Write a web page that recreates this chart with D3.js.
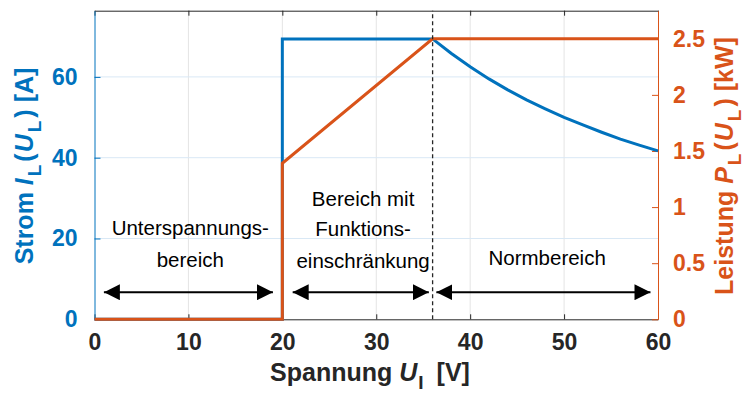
<!DOCTYPE html>
<html>
<head>
<meta charset="utf-8">
<script src="https://cdn.jsdelivr.net/npm/d3@7"></script>
<style>
  body { margin: 0; background: #fff; }
  text { font-family: "Liberation Sans", Arial, sans-serif; }
</style>
</head>
<body>
<div id="chart"></div>
<script>
// values
const voltageI = [0, 20, 20, 36, 38, 40, 42, 44, 46, 48, 50, 52, 54, 56, 58, 60];
const currentI = [0, 0, 69.4, 69.4, 65.8, 62.5, 59.5, 56.8, 54.3, 52.1, 50.0, 48.1, 46.3, 44.6, 43.1, 41.7];
const voltageP = [0, 20, 20, 36, 60];
const powerP   = [0, 0, 1.39, 2.5, 2.5];

const xTicks = [0, 10, 20, 30, 40, 50, 60];
const leftTicks = [0, 20, 40, 60];
const rightTicks = [0, 0.5, 1, 1.5, 2, 2.5];

const markerU = 36;
const regionArrows = [[1, 19], [21.1, 35.6], [36.4, 59.2]];
const regionLines = [
  {x: 10.2, y: 20.9, t: "Unterspannungs-"},
  {x: 10.2, y: 12.9, t: "bereich"},
  {x: 28.6, y: 28.0, t: "Bereich mit"},
  {x: 28.6, y: 20.7, t: "Funktions-"},
  {x: 28.6, y: 12.7, t: "einschränkung"},
  {x: 48.2, y: 13.4, t: "Normbereich"}
];
const arrowLevel = 6.7;

const width = 745, height = 394;
const margin = {top: 10.7, left: 94.5, bottom: 394 - 319.3, right: 745 - 658};
const blue = "#0072BD", orange = "#D95319", ink = "#262626";

const svg = d3.select("#chart").append("svg")
  .attr("width", width).attr("height", height);

const x = d3.scaleLinear().domain([0, 60]).range([margin.left, width - margin.right]);
const yL = d3.scaleLinear().domain([0, 69.44 * 1.1]).range([height - margin.bottom, margin.top]);
const yR = d3.scaleLinear().domain([0, 2.5 * 1.1]).range([height - margin.bottom, margin.top]);

// grid
svg.append("g").selectAll("line").data(xTicks.slice(1, -1)).enter().append("line")
  .attr("x1", d => x(d)).attr("x2", d => x(d))
  .attr("y1", yL.range()[0]).attr("y2", yL.range()[1])
  .attr("stroke", "#e4e4e4").attr("stroke-width", 1);
svg.append("g").selectAll("line").data(leftTicks.slice(1)).enter().append("line")
  .attr("x1", x.range()[0]).attr("x2", x.range()[1])
  .attr("y1", d => yL(d)).attr("y2", d => yL(d))
  .attr("stroke", "#d9e8f5").attr("stroke-width", 1);

// axes
const xAxis = g => g
  .attr("transform", `translate(0,${yL.range()[0]})`)
  .call(d3.axisBottom(x).tickValues(xTicks).tickSizeInner(-5).tickSizeOuter(0).tickPadding(14))
  .call(g => g.selectAll("line, path").attr("stroke", ink));
const xTop = g => g
  .attr("transform", `translate(0,${margin.top})`)
  .call(d3.axisTop(x).tickValues(xTicks).tickSizeInner(-5).tickSizeOuter(0).tickFormat(""))
  .call(g => g.selectAll("line, path").attr("stroke", ink));
const yAxisL = g => g
  .attr("transform", `translate(${margin.left},0)`)
  .call(d3.axisLeft(yL).tickValues(leftTicks).tickSizeInner(-6).tickSizeOuter(0).tickPadding(17))
  .call(g => g.selectAll("line, path").attr("stroke", blue));
const yAxisR = g => g
  .attr("transform", `translate(${width - margin.right},0)`)
  .call(d3.axisRight(yR).tickValues(rightTicks).tickFormat(d => String(d))
    .tickSizeInner(-6).tickSizeOuter(0).tickPadding(15))
  .call(g => g.selectAll("line, path").attr("stroke", orange));

svg.append("g").call(xTop);
svg.append("g").call(xAxis).call(g => g.selectAll("text").attr("fill", ink));
svg.append("g").call(yAxisL).call(g => g.selectAll("text").attr("fill", blue));
svg.append("g").call(yAxisR).call(g => g.selectAll("text").attr("fill", orange));
svg.selectAll(".tick text")
  .style("font-family", '"Liberation Sans", Arial, sans-serif')
  .style("font-size", "23px").style("font-weight", "bold");

// curves
const lineI = d3.line().x((d, i) => x(voltageI[i])).y(d => yL(d));
const lineP = d3.line().x((d, i) => x(voltageP[i])).y(d => yR(d));
svg.append("path").datum(currentI).attr("d", lineI)
  .attr("fill", "none").attr("stroke", blue).attr("stroke-width", 3);
svg.append("path").datum(powerP).attr("d", lineP)
  .attr("fill", "none").attr("stroke", orange).attr("stroke-width", 3);

// dashed marker
svg.append("line")
  .attr("x1", x(markerU)).attr("x2", x(markerU))
  .attr("y1", yL.range()[0]).attr("y2", yL.range()[1])
  .attr("stroke", ink).attr("stroke-width", 1.3).attr("stroke-dasharray", "4,3");

// region arrows
const defs = svg.append("defs");
["s", "e"].forEach(k => {
  defs.append("marker").attr("id", "ah-" + k)
    .attr("viewBox", "0 0 16 16").attr("refX", k === "e" ? 16 : 0).attr("refY", 8)
    .attr("markerWidth", 16).attr("markerHeight", 16)
    .attr("markerUnits", "userSpaceOnUse").attr("orient", "auto")
    .append("path")
    .attr("d", k === "e" ? "M0,0L16,8L0,16Z" : "M16,0L0,8L16,16Z")
    .attr("fill", "#000");
});
svg.append("g").selectAll("line").data(regionArrows).enter().append("line")
  .attr("x1", d => x(d[0])).attr("x2", d => x(d[1]))
  .attr("y1", yL(arrowLevel)).attr("y2", yL(arrowLevel))
  .attr("stroke", "#000").attr("stroke-width", 1.8)
  .attr("marker-start", "url(#ah-s)").attr("marker-end", "url(#ah-e)");

svg.append("g").selectAll("text").data(regionLines).enter().append("text")
  .attr("x", d => x(d.x)).attr("y", d => yL(d.y))
  .attr("text-anchor", "middle").attr("font-size", 20.5).attr("fill", "#000")
  .text(d => d.t);

// axis titles
function label(parts, attrs) {
  const t = svg.append("text").attr("font-size", 25).attr("font-weight", "bold");
  Object.entries(attrs).forEach(([k, v]) => t.attr(k, v));
  parts.forEach(p => {
    const s = t.append("tspan").text(p.t);
    if (p.i) s.attr("font-style", "italic");
    if (p.sub) s.attr("font-size", 19).attr("dy", 8);
    if (p.up) s.attr("dy", -8);
    if (p.dx) s.attr("dx", p.dx);
  });
  return t;
}
label([{t: "Strom "}, {t: "I", i: true}, {t: "L", sub: true, dx: 2}, {t: "(", up: true, dx: 3},
       {t: "U", i: true, dx: 1}, {t: "L", sub: true, dx: 2}, {t: ")", up: true, dx: 3}, {t: " [A]"}],
  {transform: "translate(33,166) rotate(-90)", "text-anchor": "middle", fill: blue});
label([{t: "Leistung "}, {t: "P", i: true}, {t: "L", sub: true, dx: 2}, {t: "(", up: true, dx: 3},
       {t: "U", i: true, dx: 1}, {t: "L", sub: true, dx: 2}, {t: ")", up: true, dx: 3}, {t: " [kW]"}],
  {transform: "translate(733,166) rotate(-90)", "text-anchor": "middle", fill: orange});
label([{t: "Spannung "}, {t: "U", i: true}, {t: "I", sub: true, dx: 1}, {t: " [V]", up: true, dx: 6}],
  {x: 370, y: 381, "text-anchor": "middle", fill: ink});
</script>
</body>
</html>
